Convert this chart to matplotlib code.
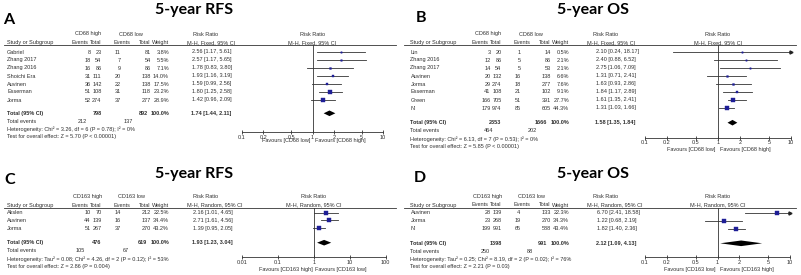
import numpy as np
import matplotlib
matplotlib.use("Agg")
import matplotlib.pyplot as plt
from matplotlib.lines import Line2D
from matplotlib.ticker import NullLocator
from matplotlib.transforms import blended_transform_factory

W, H = 801, 275
FS = 4.0
TXT = "#303030"
SQ = "#1e1e96"
plt.rcParams["font.family"] = ["Liberation Sans", "DejaVu Sans"]

# ---- A : CD68, 5-year RFS ----
a_studies = ["Gabriel", "Zhang 2017", "Zhang 2016", "Shoichi Era", "Auvinen", "Esserman", "Jorma"]
a_ev_high = [8, 18, 16, 31, 36, 51, 52]
a_tot_high = [23, 54, 86, 111, 142, 108, 274]
a_ev_low = [11, 7, 9, 20, 22, 31, 37]
a_tot_low = [81, 54, 86, 138, 138, 118, 277]
a_weight = [3.8, 5.5, 7.1, 14.0, 17.5, 23.2, 28.9]
a_rr = [2.56, 2.57, 1.78, 1.93, 1.59, 1.80, 1.42]
a_lo = [1.17, 1.17, 0.83, 1.16, 0.99, 1.25, 0.96]
a_hi = [5.61, 5.65, 3.80, 3.19, 2.56, 2.58, 2.09]
a_total = [1.74, 1.44, 2.11]
a_sums = [798, 892, 212, 137]
a_het = "Heterogeneity: Chi² = 3.26, df = 6 (P = 0.78); I² = 0%"
a_test = "Test for overall effect: Z = 5.70 (P < 0.00001)"

# ---- B : CD68, 5-year OS ----
b_studies = ["Lin", "Zhang 2016", "Zhang 2017", "Auvinen", "Jorma", "Esserman", "Green", "Ni"]
b_ev_high = [3, 12, 14, 20, 29, 41, 166, 179]
b_tot_high = [20, 86, 54, 132, 274, 108, 705, 974]
b_ev_low = [1, 5, 5, 16, 18, 21, 51, 85]
b_tot_low = [14, 86, 53, 138, 277, 102, 391, 605]
b_weight = [0.5, 2.1, 2.1, 6.6, 7.6, 9.1, 27.7, 44.3]
b_rr = [2.10, 2.40, 2.75, 1.31, 1.63, 1.84, 1.61, 1.31]
b_lo = [0.24, 0.88, 1.06, 0.71, 0.93, 1.17, 1.35, 1.03]
b_hi = [18.17, 6.52, 7.09, 2.41, 2.86, 2.89, 2.41, 1.66]
b_total = [1.58, 1.35, 1.84]
b_sums = [2353, 1666, 464, 202]
b_het = "Heterogeneity: Chi² = 6.13, df = 7 (P = 0.53); I² = 0%"
b_test = "Test for overall effect: Z = 5.85 (P < 0.00001)"

# ---- C : CD163, 5-year RFS ----
c_studies = ["Akslen", "Auvinen", "Jorma"]
c_ev_high = [10, 44, 51]
c_tot_high = [70, 139, 267]
c_ev_low = [14, 16, 37]
c_tot_low = [212, 137, 270]
c_weight = [22.5, 34.4, 43.2]
c_rr = [2.16, 2.71, 1.39]
c_lo = [1.01, 1.61, 0.95]
c_hi = [4.65, 4.56, 2.05]
c_total = [1.93, 1.23, 3.04]
c_sums = [476, 619, 105, 67]
c_het = "Heterogeneity: Tau² = 0.08; Chi² = 4.26, df = 2 (P = 0.12); I² = 53%"
c_test = "Test for overall effect: Z = 2.86 (P = 0.004)"

# ---- D : CD163, 5-year OS ----
d_studies = ["Auvinen", "Jorma", "Ni"]
d_ev_high = [28, 23, 199]
d_tot_high = [139, 268, 991]
d_ev_low = [4, 19, 65]
d_tot_low = [133, 270, 588]
d_weight = [22.3, 34.3, 43.4]
d_rr = [6.70, 1.22, 1.82]
d_lo = [2.41, 0.68, 1.40]
d_hi = [18.58, 2.19, 2.36]
d_total = [2.12, 1.09, 4.13]
d_sums = [1398, 991, 250, 88]
d_het = "Heterogeneity: Tau² = 0.25; Chi² = 8.19, df = 2 (P = 0.02); I² = 76%"
d_test = "Test for overall effect: Z = 2.21 (P = 0.03)"

ticks_narrow = [0.1, 0.2, 0.5, 1, 2, 5, 10]
ticks_narrow_lbl = ["0.1", "0.2", "0.5", "1", "2", "5", "10"]
ticks_wide = [0.01, 0.1, 1, 10, 100]
ticks_wide_lbl = ["0.01", "0.1", "1", "10", "100"]

fig = plt.figure(figsize=(W / 100, H / 100), dpi=100)

# column anchors (px from the panel's left edge)
HEAD_X = [88, 101.5, 130.5, 150, 169]     # Events, Total, Events, Total, Weight headers
VAL_X = [90.5, 101.5, 120.5, 151, 169]    # right edges of the numbers


def put(x, y, s, ha="left", bold=False, size=FS, family=None, color=TXT):
    kw = {}
    if family:
        kw["family"] = family
    fig.text(x / W, 1 - y / H, s, ha=ha, va="center", fontsize=size,
             fontweight="bold" if bold else "normal", color=color, **kw)


def draw_panel(letter, title, marker, method, d, lay):
    ox = lay["ox"]
    put(lay["letter"][0], lay["letter"][1], letter, ha="center", bold=True,
        size=11.5, family="Lato", color="black")
    put(lay["title"][0], lay["title"][1], title, ha="center", bold=True,
        size=11.5, family="Lato", color="black")

    # header
    put(ox + 88, lay["h1"], marker + " high", ha="center")
    put(ox + 131, lay["h1"], marker + " low", ha="center")
    put(ox + 193, lay["h1"], "Risk Ratio")
    h2 = lay["h1"] + 8.5
    put(ox + lay["sx"], h2, "Study or Subgroup")
    for x, s in zip(HEAD_X, ["Events", "Total", "Events", "Total", "Weight"]):
        put(ox + x, h2, s, ha="right")
    put(ox + 187, h2, "M-H, %s, 95%% CI" % method)
    fig.add_artist(Line2D([(ox + 4) / W, (ox + 396) / W],
                          [1 - lay["line"] / H] * 2, color="#333", lw=0.6))

    rows_y = [lay["row0"] + i * lay["step"] for i in range(len(d["studies"]))]
    for i, y in enumerate(rows_y):
        put(ox + lay["sx"], y, d["studies"][i])
        cells = [d["ev_high"][i], d["tot_high"][i], d["ev_low"][i], d["tot_low"][i]]
        for x, v in zip(VAL_X[:4], cells):
            put(ox + x, y, str(v), ha="right")
        put(ox + VAL_X[4], y, "%.1f%%" % d["weight"][i], ha="right")
        put(ox + lay["rx"], y, "%.2f [%.2f, %.2f]" % (d["rr"][i], d["lo"][i], d["hi"][i]))

    ty = lay["total"]
    put(ox + lay["sx"], ty, "Total (95% CI)", bold=True)
    put(ox + VAL_X[1], ty, str(d["sums"][0]), ha="right", bold=True)
    put(ox + 147.5, ty, str(d["sums"][1]), ha="right", bold=True)
    put(ox + VAL_X[4], ty, "100.0%", ha="right", bold=True)
    put(ox + lay["rx"] - 1, ty, "%.2f [%.2f, %.2f]" % tuple(d["total"]), bold=True)
    put(ox + lay["sx"], ty + 8.3, "Total events")
    put(ox + lay["tev"][0], ty + 8.3, str(d["sums"][2]), ha="right")
    put(ox + lay["tev"][1], ty + 8.3, str(d["sums"][3]), ha="right")
    put(ox + lay["sx"], ty + 16, d["het"])
    put(ox + lay["sx"], ty + 23.5, d["test"])

    # forest plot
    x0, x1 = lay["ax_x"]
    top, bot = lay["line"], lay["ax_bot"]
    ax = fig.add_axes([x0 / W, 1 - bot / H, (x1 - x0) / W, (bot - top) / H])
    ax.set_xscale("log")
    xmin, xmax = d["xlim"]
    ax.set_xlim(xmin, xmax)
    ax.set_ylim(bot, top)
    ax.patch.set_alpha(0)
    for s in ("left", "right", "top"):
        ax.spines[s].set_visible(False)
    ax.spines["bottom"].set_linewidth(0.6)
    ax.spines["bottom"].set_color("#333")
    ax.set_yticks([])
    ax.set_xticks(d["ticks"])
    ax.set_xticklabels(d["tick_lbl"])
    ax.xaxis.set_minor_locator(NullLocator())
    ax.tick_params(axis="x", direction="inout", length=2.5, width=0.6, pad=0.8,
                   labelsize=FS, colors="#333", labelcolor=TXT)
    ax.axvline(1, color="#333", lw=0.6)

    for i, y in enumerate(rows_y):
        lo, hi = d["lo"][i], d["hi"][i]
        ax.plot([max(lo, xmin), min(hi, xmax)], [y, y], color="#333", lw=0.6)
        if hi > xmax:
            ax.plot(xmax, y, marker=">", ms=2.2, color="#222", clip_on=False)
        if lo < xmin:
            ax.plot(xmin, y, marker="<", ms=2.2, color="#222", clip_on=False)
        ax.plot(d["rr"][i], y, marker="s", ms=max(1.0, 0.48 * np.sqrt(d["weight"][i])),
                color=SQ, mec=SQ, mew=0.3)
    est, lo, hi = d["total"]
    ax.fill([lo, est, hi, est], [ty, ty - 2.8, ty, ty + 2.8], color="black", lw=0)

    # header over the plot and favours labels
    tr = blended_transform_factory(ax.transData, fig.transFigure)
    ax.text(1, 1 - lay["h1"] / H, "Risk Ratio", transform=tr, ha="center",
            va="center", fontsize=FS, color=TXT)
    ax.text(1, 1 - h2 / H, "M-H, %s, 95%% CI" % method, transform=tr,
            ha="center", va="center", fontsize=FS, color=TXT)
    ax.text(0.93, 1 - lay["fav"] / H, "Favours [%s]" % d["fav"][0], transform=tr,
            ha="right", va="center", fontsize=FS, color=TXT)
    ax.text(1.07, 1 - lay["fav"] / H, "Favours [%s]" % d["fav"][1], transform=tr,
            ha="left", va="center", fontsize=FS, color=TXT)


panel_a = dict(studies=a_studies, ev_high=a_ev_high, tot_high=a_tot_high, ev_low=a_ev_low,
               tot_low=a_tot_low, weight=a_weight, rr=a_rr, lo=a_lo, hi=a_hi, total=a_total,
               sums=a_sums, het=a_het, test=a_test, xlim=(0.1, 10), ticks=ticks_narrow,
               tick_lbl=ticks_narrow_lbl, fav=("CD68 low", "CD68 high"))
panel_b = dict(studies=b_studies, ev_high=b_ev_high, tot_high=b_tot_high, ev_low=b_ev_low,
               tot_low=b_tot_low, weight=b_weight, rr=b_rr, lo=b_lo, hi=b_hi, total=b_total,
               sums=b_sums, het=b_het, test=b_test, xlim=(0.1, 10), ticks=ticks_narrow,
               tick_lbl=ticks_narrow_lbl, fav=("CD68 low", "CD68 high"))
panel_c = dict(studies=c_studies, ev_high=c_ev_high, tot_high=c_tot_high, ev_low=c_ev_low,
               tot_low=c_tot_low, weight=c_weight, rr=c_rr, lo=c_lo, hi=c_hi, total=c_total,
               sums=c_sums, het=c_het, test=c_test, xlim=(0.01, 100), ticks=ticks_wide,
               tick_lbl=ticks_wide_lbl, fav=("CD163 high", "CD163 low"))
panel_d = dict(studies=d_studies, ev_high=d_ev_high, tot_high=d_tot_high, ev_low=d_ev_low,
               tot_low=d_tot_low, weight=d_weight, rr=d_rr, lo=d_lo, hi=d_hi, total=d_total,
               sums=d_sums, het=d_het, test=d_test, xlim=(0.1, 10), ticks=ticks_narrow,
               tick_lbl=ticks_narrow_lbl, fav=("CD163 low", "CD163 high"))

lay_a = dict(ox=0, letter=(9, 20), title=(194, 10), h1=34, line=45, row0=52, step=8,
             total=113.3, tev=(87, 133), sx=7, rx=192, ax_x=(242, 383), ax_bot=131.7, fav=140.5)
lay_b = dict(ox=400, letter=(421, 18), title=(593, 10), h1=34, line=45, row0=52, step=8,
             total=122.7, tev=(93, 137), sx=10.5, rx=196, ax_x=(645, 791), ax_bot=137.5, fav=150)
lay_c = dict(ox=0, letter=(10, 180), title=(194, 174), h1=196.7, line=207.5, row0=212.7,
             step=7.7, total=242.7, tev=(85, 129), sx=7, rx=193, ax_x=(242, 385.7),
             ax_bot=256.7, fav=270)
lay_d = dict(ox=400, letter=(420, 178), title=(593, 174), h1=196.5, line=207.5, row0=212.7,
             step=7.9, total=243.3, tev=(90, 133), sx=10.5, rx=197, ax_x=(645, 790),
             ax_bot=256.7, fav=270)

draw_panel("A", "5-year RFS", "CD68", "Fixed", panel_a, lay_a)
draw_panel("B", "5-year OS", "CD68", "Fixed", panel_b, lay_b)
draw_panel("C", "5-year RFS", "CD163", "Random", panel_c, lay_c)
draw_panel("D", "5-year OS", "CD163", "Random", panel_d, lay_d)

fig.savefig("out.png", dpi=100)
